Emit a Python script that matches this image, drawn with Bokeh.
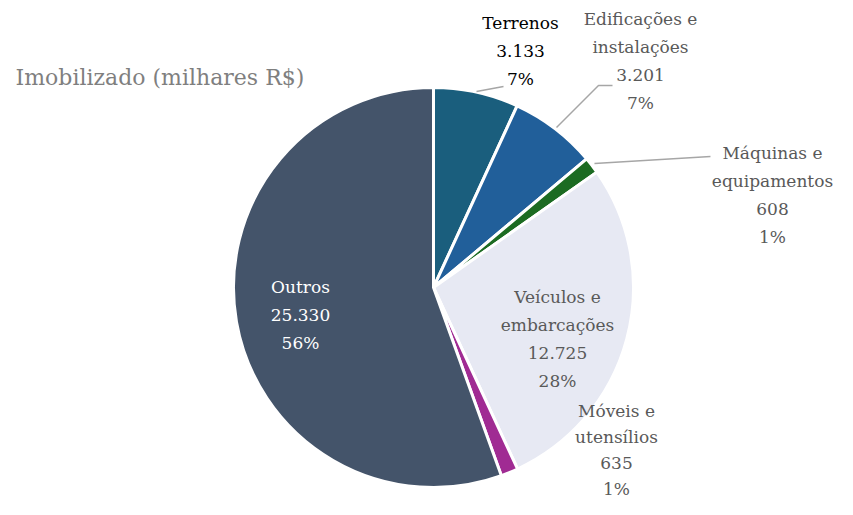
import math
from bokeh.plotting import figure
from bokeh.models import Range1d, ColumnDataSource
from bokeh.core.properties import value
from bokeh.embed import file_html
from bokeh.resources import INLINE

# ---- data ----
categories = ["Terrenos", "Edificações e\ninstalações", "Máquinas e\nequipamentos",
              "Veículos e\nembarcações", "Móveis e\nutensílios", "Outros"]
values = [3133, 3201, 608, 12725, 635, 25330]
colors = ["#1a5e7d", "#215f9a", "#1c6b22", "#e7e9f3", "#a02b93", "#44546a"]
label_colors = ["#000000", "#595959", "#595959", "#595959", "#595959", "#ffffff"]
title = "Imobilizado (milhares R$)"

# ---- layout (page pixel coordinates; y is negated) ----
CX, CY, R = 433, 287, 200
label_pos = [(520, 22), (640, 18), (772, 152), (557, 296), (616, 410), (300, 286)]
line_h = [28, 28, 28, 28, 26, 28]
leaders = [
    [(476, 91), (503, 86)],
    [(556, 127), (598, 85), (612, 85)],
    [(594, 163), (710, 156)],
]
FONT = "DejaVu Serif"

p = figure(width=837, height=499, output_backend="svg", toolbar_location=None,
           x_range=Range1d(0, 837), y_range=Range1d(-499, 0),
           min_border=0, outline_line_color=None)
p.axis.visible = False
p.grid.visible = False
p.background_fill_color = "white"
p.border_fill_color = "white"

total = sum(values)
starts, ends = [], []
a = math.pi / 2
for v in values:
    frac = v / total
    starts.append(a)
    a -= frac * 2 * math.pi
    ends.append(a)

src = ColumnDataSource(dict(start=starts, end=ends, color=colors))
p.wedge(x=CX, y=-CY, radius=R, start_angle="end", end_angle="start",
        fill_color="color", line_color="white", line_width=3, source=src)

for pts in leaders:
    p.line([q[0] for q in pts], [-q[1] for q in pts], line_color="#a6a6a6", line_width=1.5)

def fmt(v):
    return f"{v:,}".replace(",", ".")

xs, ys, texts, tcols = [], [], [], []
for cat, v, (lx, ly), lh, c in zip(categories, values, label_pos, line_h, label_colors):
    lines = cat.split("\n") + [fmt(v), f"{round(100 * v / total)}%"]
    for i, t in enumerate(lines):
        xs.append(lx)
        ys.append(-(ly + i * lh))
        texts.append(t)
        tcols.append(c)

p.text(x=xs, y=ys, text=texts, text_color=tcols, text_align="center",
       text_baseline="middle", text_font=value(FONT), text_font_size="17px")

p.text(x=[15], y=[-77], text=[title], text_color="#7f7f7f", text_align="left",
       text_baseline="middle", text_font=value(FONT), text_font_size="22px")

open("out.html", "w").write(file_html(p, INLINE))
